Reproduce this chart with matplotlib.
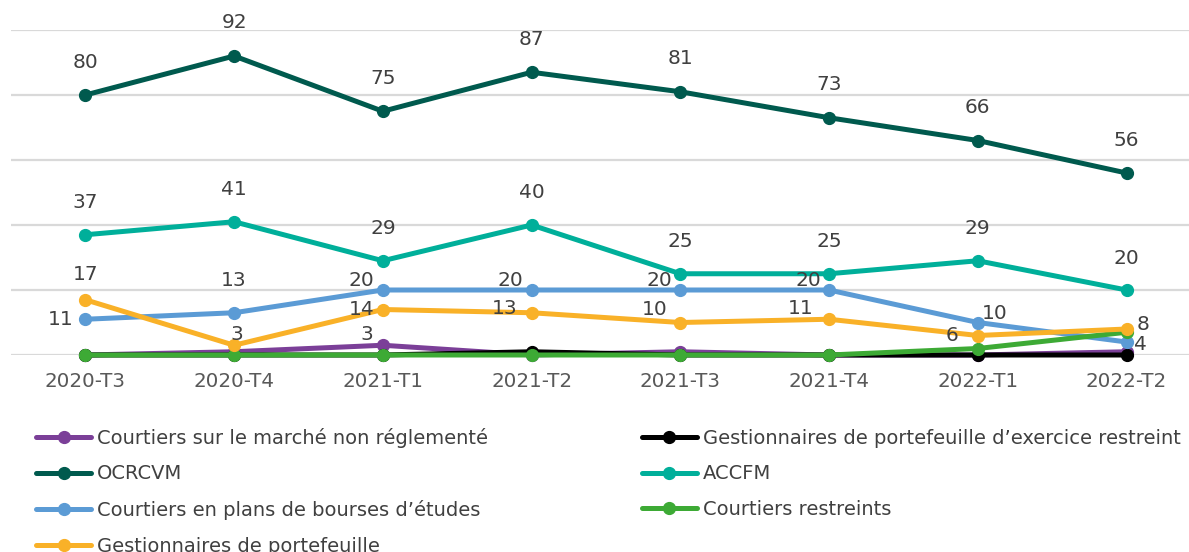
import matplotlib.pyplot as plt
import numpy as np

# quarters on the x axis
quarters = ['2020-T3', '2020-T4', '2021-T1', '2021-T2', '2021-T3', '2021-T4', '2022-T1', '2022-T2']

# series values
marche_non_regl = [0, 1, 3, 0, 1, 0, 0, 1]
gest_restreint = [0, 0, 0, 1, 0, 0, 0, 0]
ocrcvm = [80, 92, 75, 87, 81, 73, 66, 56]
accfm = [37, 41, 29, 40, 25, 25, 29, 20]
bourses_etudes = [11, 13, 20, 20, 20, 20, 10, 4]
courtiers_restreints = [0, 0, 0, 0, 0, 0, 2, 7]
gestionnaires = [17, 3, 14, 13, 10, 11, 6, 8]

names = ['Courtiers sur le marché non réglementé',
         'Gestionnaires de portefeuille d\u2019exercice restreint',
         'OCRCVM',
         'ACCFM',
         'Courtiers en plans de bourses d\u2019études',
         'Courtiers restreints',
         'Gestionnaires de portefeuille']
series = [marche_non_regl, gest_restreint, ocrcvm, accfm, bourses_etudes,
          courtiers_restreints, gestionnaires]
colors = ['#7B3F98', '#000000', '#005A4E', '#00AF9A', '#5B9BD5', '#3DAA35', '#F9B128']

# which points carry a label, and where (pixel offsets from the point)
label_pos = [
    {2: (-16, 11)},
    {},
    {i: (0, 33) for i in range(8)},
    {i: (0, 32) for i in range(8)},
    {0: (-25, 0), 1: (0, 32), 2: (-21, 10), 3: (-21, 10), 4: (-21, 10), 5: (-21, 10),
     6: (17, 9), 7: (14, -2)},
    {},
    {0: (0, 25), 1: (3, 11), 2: (-21, 0), 3: (-27, 4), 4: (-26, 13), 5: (-28, 11),
     6: (-26, 0), 7: (17, 5)},
]

plt.rcParams['font.family'] = 'DejaVu Sans'

fig = plt.figure(figsize=(11.89, 5.52), dpi=100)
ax = fig.add_axes([11 / 1189, 197 / 552, 1178 / 1189, 325 / 552])

x = np.arange(len(quarters))
handles = []
for vals, name, col, labs in zip(series, names, colors, label_pos):
    h, = ax.plot(x, vals, '-o', color=col, lw=3.6, ms=8.5, label=name,
                 solid_capstyle='round', clip_on=False)
    handles.append(h)
    for i, (dx, dy) in labs.items():
        ax.annotate(str(vals[i]), (x[i], vals[i]), xytext=(dx, dy),
                    textcoords='offset pixels', ha='center', va='center',
                    fontsize=14.5, color='#404040')

ax.set_xlim(-0.5, 7.42)
ax.set_ylim(0, 100)
ax.set_yticks(np.arange(0, 101, 20))
ax.set_yticklabels([])
ax.set_xticks(x)
ax.set_xticklabels(quarters, fontsize=14.3, color='#595959')
ax.tick_params(length=0, pad=12)
ax.grid(axis='y', color='#D9D9D9', lw=1.6)
ax.set_axisbelow(True)
for s in ax.spines.values():
    s.set_visible(False)

# legend filled column by column: left column then right column
order = [0, 2, 4, 6, 1, 3, 5]
leg = fig.legend([handles[i] for i in order], [names[i] for i in order],
                 loc='upper left', bbox_to_anchor=(0.022, 0.243), ncol=2,
                 frameon=False, fontsize=14, handlelength=2.85, handletextpad=0.3,
                 labelspacing=0.86, columnspacing=7.9, borderpad=0)
for t in leg.get_texts():
    t.set_color('#404040')

fig.savefig('out.png', dpi=100)
